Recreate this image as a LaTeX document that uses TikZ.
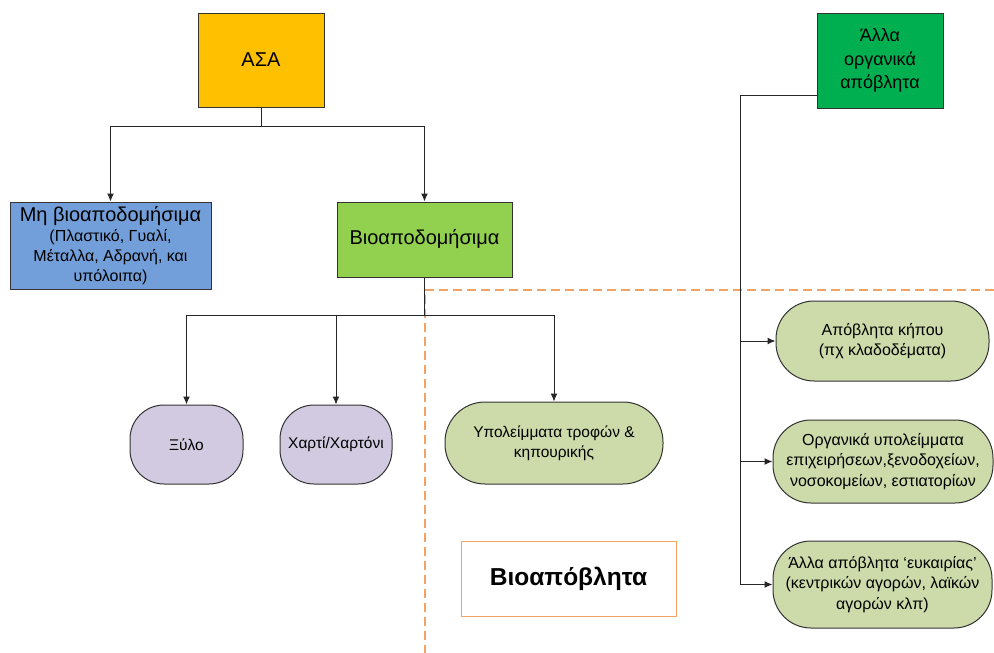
\documentclass[tikz,border=0pt]{standalone}
\usepackage{fontspec}
\setmainfont{Liberation Sans}
\usetikzlibrary{arrows.meta}
\definecolor{asacol}{HTML}{FFC000}
\definecolor{mhcol}{HTML}{729FD9}
\definecolor{biocol}{HTML}{92D050}
\definecolor{allacol}{HTML}{00B050}
\definecolor{lilac}{HTML}{D1CAE0}
\definecolor{olive}{HTML}{CCDBA9}
\definecolor{dashorange}{HTML}{F2A264}

\begin{document}
\begin{tikzpicture}[x=1pt,y=-1pt,line width=1pt,>={Latex[length=8pt,width=7pt]},
  box/.style={draw=black!80,inner sep=2pt,align=center,font=\fontsize{20}{23}\selectfont},
  pill/.style={draw=black!80,rounded corners=38pt,inner sep=2pt,align=center,font=\fontsize{16}{20.5}\selectfont},
  link/.style={black!85,line width=1pt}]
  \useasboundingbox (0,0) rectangle (994,653);
  % orange borders of the bio-waste area
  \draw[dashorange,line width=1.5pt,dash pattern=on 9pt off 5pt] (994,290) -- (425,290) -- (425,653);
  % top level
  \node[box,fill=asacol,minimum width=126pt,minimum height=94pt] (asa) at (261,60) {ΑΣΑ};
  \node[box,fill=allacol,minimum width=126pt,minimum height=95pt,font=\fontsize{18}{23.5}\selectfont] (alla) at (880,60.5) {Άλλα\\οργανικά\\απόβλητα};
  % second level
  \node[box,fill=mhcol,minimum width=201pt,minimum height=87pt,font=\fontsize{16}{20}\selectfont] (mh) at (110.5,245.5)
    {{\fontsize{20}{22}\selectfont Μη βιοαποδομήσιμα}\\(Πλαστικό, Γυαλί,\\Μέταλλα, Αδρανή, και\\υπόλοιπα)};
  \node[box,fill=biocol,minimum width=175pt,minimum height=75pt] (bio) at (424.5,239.5) {Βιοαποδομήσιμα};
  % bio-degradable kinds
  \node[pill,fill=lilac,rounded corners=34pt,minimum width=113pt,minimum height=79pt,font=\fontsize{15.5}{20}\selectfont] (xylo) at (186.5,444.5) {Ξύλο};
  \node[pill,fill=lilac,rounded corners=34pt,minimum width=112pt,minimum height=79pt,font=\fontsize{15.5}{20}\selectfont] (xarti) at (336,444.5) {Χαρτί/Χαρτόνι};
  \node[pill,fill=olive,rounded corners=40pt,minimum width=218pt,minimum height=82pt,font=\fontsize{15.5}{20}\selectfont] (trofes) at (554,443) {Υπολείμματα τροφών \&\\κηπουρικής};
  % other organic kinds
  \node[pill,fill=olive,minimum width=213pt,minimum height=80pt] (org1) at (882.5,341) {Απόβλητα κήπου\\(πχ κλαδοδέματα)};
  \node[pill,fill=olive,minimum width=220pt,minimum height=83pt] (org2) at (883,461.5) {Οργανικά υπολείμματα\\επιχειρήσεων,ξενοδοχείων,\\νοσοκομείων, εστιατορίων};
  \node[pill,fill=olive,minimum width=219pt,minimum height=87pt] (org3) at (882.5,584.5) {Άλλα απόβλητα ‘ευκαιρίας’\\(κεντρικών αγορών, λαϊκών\\αγορών κλπ)};
  % label of the area
  \node[draw=dashorange,fill=white,line width=1pt,minimum width=215pt,minimum height=75pt,font=\fontsize{24.5}{28}\bfseries] (label) at (568.5,578.5) {Βιοαπόβλητα};
  % connectors
  \draw[link] (asa.south) -- (asa.south |- 0,126) coordinate (j1);
  \draw[link,->] (j1) -| (mh.north);
  \draw[link,->] (j1) -| (bio.north);
  \draw[link] (bio.south) -- (bio.south |- 0,315) coordinate (j2);
  \draw[link,->] (j2) -| (xylo.north);
  \draw[link,->] (j2) -| (trofes.north);
  \draw[link,->] (xarti.north |- j2) -- (xarti.north);
  \coordinate (spine) at (740,95);
  \draw[link] (alla.west |- spine) -- (spine) -- (spine |- org3.west);
  \foreach \n in {org1,org2,org3}
    \draw[link,->] (spine |- \n.west) -- (\n.west);
\end{tikzpicture}
\end{document}
